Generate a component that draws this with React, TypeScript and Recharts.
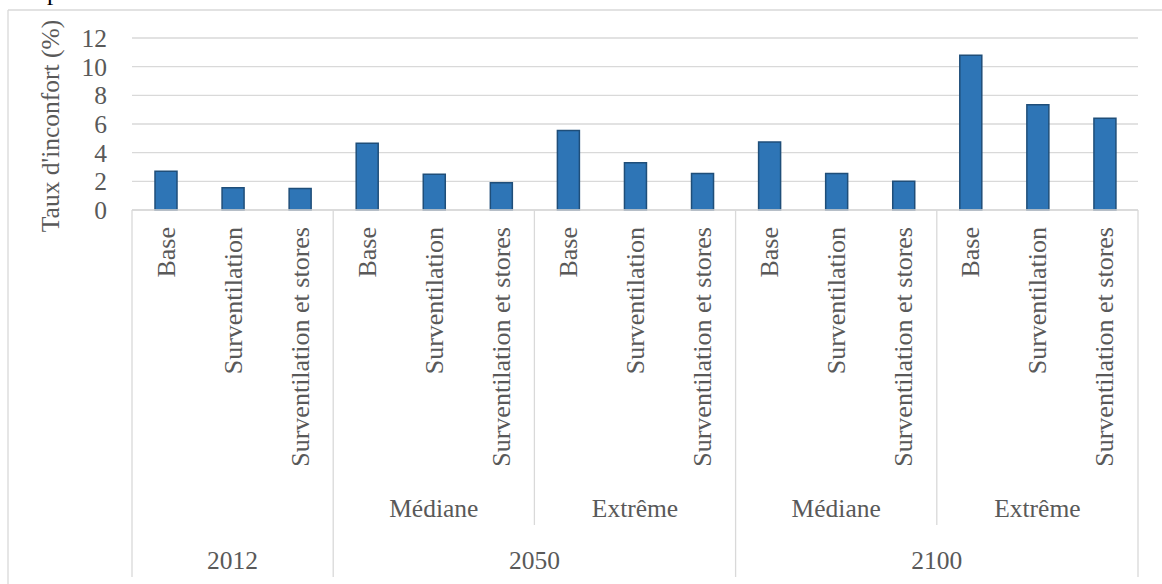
import React from 'react';
import { BarChart, Bar, XAxis, YAxis, CartesianGrid } from 'recharts';

// Treatments repeated within each climate block
const treatments = ['Base', 'Surventilation', 'Surventilation et stores'];
// One entry per block of three bars
const climates = ['', 'Médiane', 'Extrême', 'Médiane', 'Extrême'];
const years = ['2012', '2050', '2050', '2100', '2100'];
// Discomfort rate (%) per bar, block by block
const discomfort = [
  2.7, 1.55, 1.5,
  4.65, 2.5, 1.9,
  5.55, 3.3, 2.55,
  4.75, 2.55, 2.0,
  10.8, 7.35, 6.4,
];
const yTicks = [0, 2, 4, 6, 8, 10, 12];
const yTitle = "Taux d'inconfort (%)";

const rows = discomfort.map((v, i) => {
  const block = Math.floor(i / treatments.length);
  return {
    id: `c${i}`,
    treatment: treatments[i % treatments.length],
    climate: climates[block],
    year: years[block],
    value: v,
  };
});

const W = 1162;
const H = 584;
const MARGIN = { top: 38, right: 24, left: 82, bottom: 0 };
const Y_W = 50;
const X_H = 374;
const PLOT_W = W - MARGIN.left - Y_W - MARGIN.right;
const BAND = PLOT_W / rows.length;

const FONT = "'Liberation Serif', 'Times New Roman', serif";
const TEXT = '#595959';
const LINE = '#d9d9d9';

function CategoryTick(props: any) {
  const { x, y, index } = props;
  const i = index as number;
  const row = rows[i];
  const per = treatments.length;
  const block = Math.floor(i / per);
  const pos = i % per;
  const left = x - BAND / 2;
  const parts: React.ReactNode[] = [];

  parts.push(
    <text
      key="lbl"
      transform={`translate(${x + 9},${y + 17}) rotate(-90)`}
      textAnchor="end"
      fill={TEXT}
      fontSize={26}
      fontFamily={FONT}
    >
      {row.treatment}
    </text>
  );

  if (pos === 0) {
    const yearStart = block === 0 || years[block] !== years[block - 1];
    parts.push(
      <line
        key="sep"
        x1={left}
        x2={left}
        y1={y}
        y2={y + (yearStart ? 367 : 315)}
        stroke={LINE}
        strokeWidth={1.3}
      />
    );
    if (yearStart) {
      let count = 0;
      for (let b = block; b < years.length && years[b] === years[block]; b++) count += per;
      parts.push(
        <text
          key="year"
          x={left + (count * BAND) / 2}
          y={y + 359}
          textAnchor="middle"
          fill={TEXT}
          fontSize={25.5}
          fontFamily={FONT}
        >
          {row.year}
        </text>
      );
    }
  }

  if (pos === 1 && row.climate) {
    parts.push(
      <text
        key="clim"
        x={x}
        y={y + 307}
        textAnchor="middle"
        fill={TEXT}
        fontSize={25.5}
        fontFamily={FONT}
      >
        {row.climate}
      </text>
    );
  }

  if (i === rows.length - 1) {
    parts.push(
      <line
        key="end"
        x1={x + BAND / 2}
        x2={x + BAND / 2}
        y1={y}
        y2={y + 367}
        stroke={LINE}
        strokeWidth={1.3}
      />
    );
  }

  return <g>{parts}</g>;
}

export default function App() {
  return (
    <div
      style={{
        position: 'absolute',
        left: 0,
        top: 0,
        width: W,
        height: H,
        overflow: 'hidden',
        background: '#fff',
        fontFamily: FONT,
      }}
    >
      <svg
        width={W}
        height={H}
        style={{ position: 'absolute', left: 0, top: 0 }}
      >
        <text x={47} y={0} fontSize={25} fontFamily={FONT} fill="#000">
          p
        </text>
        <line x1={8} y1={10} x2={W} y2={10} stroke={LINE} strokeWidth={1.3} />
        <line x1={8} y1={10} x2={8} y2={H} stroke={LINE} strokeWidth={1.3} />
        <text
          transform="translate(59,126) rotate(-90)"
          textAnchor="middle"
          fill={TEXT}
          fontSize={25.5}
          fontFamily={FONT}
        >
          {yTitle}
        </text>
      </svg>
      <div style={{ position: 'absolute', left: 0, top: 0 }}>
        <BarChart width={W} height={H} data={rows} margin={MARGIN}>
          <CartesianGrid vertical={false} stroke={LINE} strokeWidth={1.3} />
          <XAxis
            dataKey="id"
            interval={0}
            height={X_H}
            tickLine={false}
            tickSize={0}
            tickMargin={0}
            axisLine={{ stroke: LINE, strokeWidth: 1.3 }}
            tick={<CategoryTick />}
          />
          <YAxis
            width={Y_W}
            domain={[0, 12]}
            ticks={yTicks}
            interval={0}
            axisLine={false}
            tickLine={false}
            tickSize={0}
            tickMargin={25}
            tick={{ fill: TEXT, fontSize: 25.5, fontFamily: FONT }}
          />
          <Bar
            dataKey="value"
            fill="#2E75B6"
            stroke="#1F4E79"
            strokeWidth={1.5}
            barSize={22}
            isAnimationActive={false}
          />
        </BarChart>
      </div>
    </div>
  );
}
